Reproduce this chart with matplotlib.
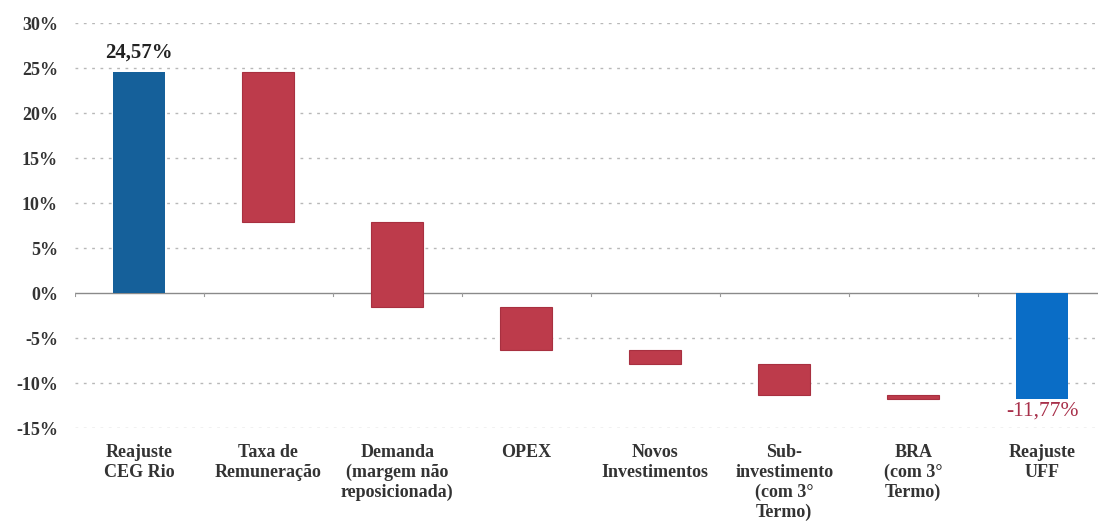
import numpy as np
import matplotlib.pyplot as plt
from matplotlib.ticker import FuncFormatter

# Waterfall components (percentage points)
CATEGORIES = [
    "Reajuste\nCEG Rio",
    "Taxa de\nRemuneração",
    "Demanda\n(margem não\nreposicionada)",
    "OPEX",
    "Novos\nInvestimentos",
    "Sub-\ninvestimento\n(com 3°\nTermo)",
    "BRA\n(com 3°\nTermo)",
    "Reajuste\nUFF",
]
START_VALUE = 24.57
DELTAS = [-16.67, -9.45, -4.77, -1.56, -3.45, -0.43]
END_VALUE = -11.77

Y_TICKS = [-15, -10, -5, 0, 5, 10, 15, 20, 25, 30]

BLUE_DARK = "#15609a"
BLUE_LIGHT = "#0a6dc6"
RED = "#bd3b4b"
RED_EDGE = "#a83040"
SERIF = "Liberation Serif"


def main() -> None:
    fig = plt.figure(figsize=(10.98, 5.24), dpi=100)
    ax = fig.add_axes([0.068, 0.183, 0.94, 0.773])

    x = np.arange(len(CATEGORIES))
    width = 0.4

    # Running totals for the floating bars
    levels = START_VALUE + np.cumsum([0] + DELTAS)

    ax.bar(x[0], START_VALUE, width=width, color=BLUE_DARK, zorder=3)
    for i, d in enumerate(DELTAS, start=1):
        ax.bar(x[i], d, bottom=levels[i - 1], width=width, color=RED,
               edgecolor=RED_EDGE, linewidth=0.8, zorder=3)
    ax.bar(x[-1], END_VALUE, width=width, color=BLUE_LIGHT, zorder=3)

    ax.text(x[0], START_VALUE + 1.0, "24,57%", ha="center", va="bottom",
            family=SERIF, fontweight="bold", fontsize=15, color="#222222")
    ax.text(x[-1], END_VALUE - 0.3, "-11,77%", ha="center", va="top",
            family=SERIF, fontsize=15.5, color="#a8304a")

    # Dotted horizontal grid, solid baseline at zero
    for y in Y_TICKS:
        if y == 0:
            continue
        ax.axhline(y, color="#b8b8b8", linewidth=1.0,
                   linestyle=(0, (2, 4)), zorder=1)
    ax.axhline(0, color="#8a8a8a", linewidth=1.0, zorder=2)
    for b in np.arange(-0.5, len(CATEGORIES), 1.0):
        ax.plot([b, b], [0, -0.35], color="#9a9a9a", linewidth=0.8, zorder=2)

    ax.set_xlim(-0.5, len(CATEGORIES) - 0.5)
    ax.set_ylim(-15, 30)
    ax.set_yticks(Y_TICKS)
    ax.yaxis.set_major_formatter(FuncFormatter(lambda v, _: f"{v:.0f}%"))
    ax.tick_params(axis="y", length=0, pad=12, labelsize=13,
                   labelcolor="#333333")
    for lbl in ax.get_yticklabels():
        lbl.set_family(SERIF)
        lbl.set_fontweight("bold")
    ax.set_xticks([])

    for spine in ax.spines.values():
        spine.set_visible(False)

    # Category names under the plot area
    for i, name in enumerate(CATEGORIES):
        ax.text(x[i], -16.8, name, ha="center", va="top", family=SERIF,
                fontweight="bold", fontsize=13, color="#333333",
                linespacing=1.2, clip_on=False)

    fig.savefig("out.png", dpi=100)


if __name__ == "__main__":
    main()
